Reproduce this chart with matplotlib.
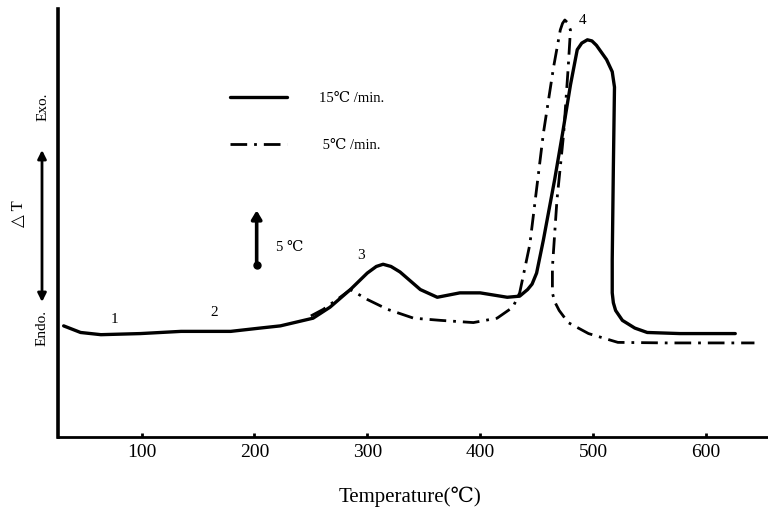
import matplotlib.pyplot as plt

# DTA curves, temperature in C, delta T in arbitrary units (5 C arrow = 5 units)
solid_T = [31, 46, 64, 99, 135, 179, 205, 223, 252, 267,
           285, 300, 308, 314, 321, 329, 347, 362, 382, 400,
           424, 435, 442, 446, 450, 456, 466, 473, 480, 486,
           490, 495, 499, 503, 512, 517, 519, 518, 517, 517,
           518, 520, 526, 537, 548, 577, 626]
solid_dT = [10.1, 9.5, 9.3, 9.4, 9.6, 9.6, 9.9, 10.1, 10.8, 11.8,
            13.4, 14.9, 15.5, 15.7, 15.5, 15.0, 13.4, 12.7, 13.1, 13.1,
            12.7, 12.8, 13.4, 13.9, 14.9, 17.9, 23.4, 27.6, 32.0, 35.2,
            35.8, 36.1, 36.0, 35.6, 34.3, 33.2, 31.8, 24.5, 16.1, 13.1,
            12.2, 11.5, 10.6, 9.9, 9.5, 9.4, 9.4]

dash_T = [250, 261, 276, 285, 300, 318, 341, 365, 394, 415,
          429, 435, 444, 456, 465, 471, 473, 475, 477, 480,
          478, 474, 468, 464, 464, 466, 470, 478, 496, 522,
          566, 643]
dash_dT = [11.0, 11.6, 12.7, 13.4, 12.5, 11.6, 10.8, 10.6, 10.4, 10.8,
           11.8, 13.1, 17.5, 27.6, 33.6, 37.0, 37.6, 37.9, 37.7, 37.0,
           33.6, 27.6, 21.5, 15.4, 13.1, 12.3, 11.5, 10.4, 9.4, 8.6,
           8.55, 8.55]

labels = ['15\u2103 /min.', ' 5\u2103 /min.']
peak_names = ['1', '2', '3', '4']
peak_T = [76, 164, 294, 491]
peak_dT = [10.7, 11.3, 16.5, 37.9]
xticks = [100, 200, 300, 400, 500, 600]

serif = ['Liberation Serif', 'DejaVu Serif', 'DejaVu Sans']
plt.rcParams['font.family'] = serif

fig = plt.figure(figsize=(7.68, 5.13), dpi=100)
ax = fig.add_axes([58 / 768, 76 / 513, 710 / 768, 428 / 513])

ax.plot(solid_T, solid_dT, color='black', lw=2.4, solid_capstyle='round',
        solid_joinstyle='round', label=labels[0])
ax.plot(dash_T, dash_dT, color='black', lw=2.0,
        linestyle=(0, (6, 2.5, 1, 2.5)), label=labels[1])

ax.set_xlim(26, 655)
ax.set_ylim(0, 38.9)
ax.set_xticks(xticks)
ax.set_yticks([])
ax.tick_params(axis='x', direction='in', length=3, width=2, pad=5,
               labelsize=14)
for s in ['top', 'right']:
    ax.spines[s].set_visible(False)
ax.spines['left'].set_linewidth(2.6)
ax.spines['bottom'].set_linewidth(2.0)

ax.set_xlabel('Temperature(\u2103)', fontsize=15, va='center')
ax.xaxis.set_label_coords(0.496, -0.14)

for name, t, d in zip(peak_names, peak_T, peak_dT):
    ax.text(t, d, name, fontsize=11, ha='center', va='center')

leg = ax.legend(loc='upper left', bbox_to_anchor=(230 / 768, 1 - 92 / 513),
                bbox_transform=fig.transFigure, frameon=False, fontsize=10.5,
                handlelength=3.9, handletextpad=2.2, labelspacing=2.3,
                borderpad=0, borderaxespad=0)

# 5 C scale arrow
ax.annotate('', xy=(202, 20.6), xytext=(202, 15.6),
            arrowprops=dict(arrowstyle='-|>,head_width=0.3,head_length=0.5',
                            lw=2.6, color='black', shrinkA=0, shrinkB=0))
ax.plot([202], [15.6], 'o', color='black', ms=5)
ax.text(219, 17.2, '5 \u2103', fontsize=10.5, ha='left', va='center')

# left side annotations
fig.text(43, 513 - 107, 'Exo.', rotation=90, fontsize=11, ha='center',
         va='center', transform=None)
fig.text(19, 513 - 214, '\u25b3 T', rotation=90, fontsize=12, ha='center',
         va='center', transform=None)
fig.text(42, 513 - 328, 'Endo.', rotation=90, fontsize=11, ha='center',
         va='center', transform=None)
ax.annotate('', xy=(42, 513 - 150), xytext=(42, 513 - 302),
            xycoords='figure pixels', textcoords='figure pixels',
            arrowprops=dict(arrowstyle='<|-|>,head_width=0.25,head_length=0.5',
                            lw=2.0, color='black', shrinkA=0, shrinkB=0))

fig.savefig('out.png', dpi=100)
